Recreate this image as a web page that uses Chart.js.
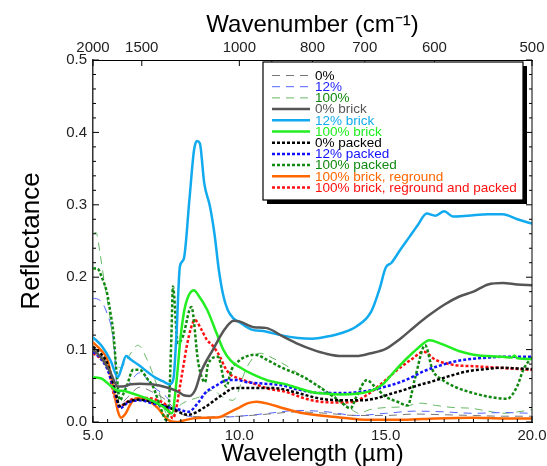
<!DOCTYPE html>
<html>
<head>
<meta charset="utf-8">
<script src="https://cdn.jsdelivr.net/npm/chart.js@4.4.1/dist/chart.umd.min.js"></script>
<style>
  html, body { margin: 0; padding: 0; background: #fff; }
  #wrap { width: 547px; height: 466px; }
</style>
</head>
<body>
<div id="wrap"><canvas id="reflChart"></canvas></div>
<script>
// spectra as [wavelength (um), reflectance]
const plain0 = [[5.0,0.105],[5.25,0.095],[5.5,0.078],[5.75,0.04],[5.92,0.025],[6.2,0.035],[6.6,0.048],[7.0,0.042],[7.5,0.03],[7.9,0.014],[8.3,0.008],[9.0,0.007],[10.0,0.008],[11.0,0.011],[12.0,0.014],[13.0,0.012],[14.0,0.009],[15.0,0.009],[16.0,0.011],[17.0,0.01],[18.0,0.009],[19.0,0.008],[20.0,0.008]];
const plain12 = [[5.0,0.171],[5.24,0.168],[5.48,0.15],[5.7,0.113],[5.85,0.04],[6.15,0.049],[6.6,0.068],[7.05,0.049],[7.5,0.035],[7.8,0.02],[8.1,0.01],[8.5,0.007],[9.0,0.006],[10.0,0.008],[11.0,0.012],[12.0,0.016],[13.0,0.014],[14.0,0.009],[15.0,0.012],[16.0,0.015],[17.0,0.014],[18.0,0.012],[19.0,0.013],[20.0,0.012]];
const plain100 = [[5.0,0.26],[5.1,0.262],[5.24,0.233],[5.4,0.19],[5.58,0.145],[5.8,0.081],[5.95,0.075],[6.15,0.086],[6.54,0.106],[6.85,0.086],[7.2,0.049],[7.5,0.012],[7.7,0.008],[7.9,0.02],[8.07,0.026],[8.66,0.035],[9.1,0.044],[9.4,0.035],[9.78,0.03],[10.26,0.076],[10.7,0.095],[11.05,0.09],[11.6,0.078],[12.2,0.062],[12.8,0.048],[13.3,0.035],[13.7,0.022],[14.1,0.012],[14.45,0.017],[15.0,0.02],[15.6,0.021],[16.2,0.026],[16.7,0.023],[17.3,0.02],[17.9,0.019],[18.5,0.015],[19.0,0.012],[19.5,0.014],[20.0,0.017]];
const brick0 = [[5.0,0.1],[5.3,0.088],[5.6,0.068],[5.85,0.049],[6.0,0.049],[6.3,0.052],[6.6,0.053],[7.0,0.052],[7.5,0.048],[7.9,0.042],[8.1,0.037],[8.3,0.036],[8.5,0.045],[8.7,0.07],[9.1,0.1],[9.5,0.128],[9.8,0.14],[10.0,0.139],[10.5,0.131],[10.9,0.13],[11.5,0.118],[12.0,0.108],[12.5,0.1],[13.0,0.094],[13.5,0.091],[14.0,0.091],[14.5,0.095],[15.0,0.101],[15.5,0.115],[16.0,0.132],[16.5,0.148],[17.0,0.162],[17.5,0.173],[18.0,0.18],[18.5,0.19],[19.0,0.192],[19.5,0.19],[20.0,0.189]];
const brick12 = [[5.0,0.117],[5.3,0.105],[5.6,0.085],[5.85,0.062],[5.98,0.075],[6.13,0.091],[6.3,0.086],[6.55,0.079],[7.1,0.062],[7.4,0.056],[7.63,0.052],[7.75,0.06],[7.85,0.12],[7.97,0.215],[8.1,0.225],[8.3,0.31],[8.45,0.375],[8.55,0.388],[8.65,0.385],[8.8,0.33],[9.0,0.297],[9.15,0.26],[9.3,0.21],[9.45,0.175],[9.6,0.155],[9.8,0.143],[10.0,0.138],[10.4,0.128],[10.9,0.125],[11.4,0.12],[12.0,0.116],[12.5,0.115],[13.0,0.118],[13.5,0.123],[14.0,0.132],[14.5,0.152],[14.8,0.185],[15.0,0.213],[15.2,0.22],[15.5,0.238],[15.8,0.255],[16.1,0.272],[16.4,0.288],[16.7,0.285],[17.0,0.291],[17.3,0.284],[17.8,0.285],[18.5,0.287],[19.0,0.287],[19.5,0.28],[20.0,0.274]];
const brick100 = [[5.0,0.062],[5.3,0.06],[5.6,0.05],[5.85,0.043],[6.0,0.043],[6.3,0.04],[6.6,0.036],[7.0,0.03],[7.4,0.021],[7.7,0.012],[7.85,0.055],[8.0,0.12],[8.15,0.16],[8.45,0.182],[8.6,0.175],[8.9,0.155],[9.2,0.125],[9.45,0.1],[9.7,0.085],[10.0,0.076],[10.5,0.065],[11.0,0.057],[11.5,0.053],[12.0,0.047],[12.5,0.041],[13.0,0.039],[13.5,0.038],[14.0,0.039],[14.5,0.043],[14.9,0.052],[15.3,0.07],[15.7,0.087],[16.1,0.102],[16.5,0.113],[16.9,0.108],[17.5,0.098],[18.0,0.093],[18.5,0.091],[19.0,0.09],[19.3,0.089],[19.4,0.092],[19.5,0.088],[20.0,0.087]];
const packed0 = [[5.0,0.104],[5.25,0.095],[5.5,0.08],[5.75,0.045],[5.92,0.022],[6.2,0.028],[6.6,0.031],[7.0,0.028],[7.66,0.019],[8.25,0.01],[8.8,0.02],[9.4,0.037],[9.85,0.047],[10.2,0.047],[10.6,0.047],[11.0,0.047],[11.4,0.046],[12.0,0.04],[12.8,0.032],[13.5,0.03],[14.2,0.03],[14.7,0.033],[15.1,0.038],[15.6,0.044],[16.05,0.05],[16.5,0.055],[16.9,0.06],[17.4,0.066],[17.8,0.07],[18.4,0.073],[19.0,0.075],[19.5,0.074],[20.0,0.073]];
const packed12 = [[5.0,0.097],[5.25,0.088],[5.5,0.072],[5.75,0.04],[5.92,0.019],[6.2,0.027],[6.6,0.03],[7.0,0.026],[7.5,0.021],[7.97,0.017],[8.25,0.014],[8.6,0.027],[8.83,0.04],[9.2,0.05],[9.6,0.058],[9.9,0.058],[10.26,0.055],[10.8,0.053],[11.4,0.051],[12.0,0.045],[12.75,0.04],[13.5,0.04],[14.0,0.041],[14.5,0.044],[15.0,0.049],[15.5,0.055],[15.9,0.062],[16.3,0.07],[16.7,0.076],[17.3,0.083],[17.9,0.087],[18.5,0.089],[19.0,0.09],[19.5,0.09],[20.0,0.09]];
const packed100 = [[5.0,0.212],[5.15,0.212],[5.3,0.2],[5.48,0.178],[5.6,0.15],[5.7,0.122],[5.8,0.07],[5.92,0.03],[6.05,0.04],[6.15,0.049],[6.37,0.072],[6.6,0.072],[6.85,0.06],[7.05,0.049],[7.3,0.021],[7.5,0.003],[7.6,0.03],[7.68,0.12],[7.73,0.187],[7.9,0.109],[8.07,0.118],[8.36,0.159],[8.6,0.081],[8.83,0.055],[8.93,0.08],[9.27,0.09],[9.55,0.049],[9.73,0.072],[10.0,0.085],[10.2,0.09],[10.53,0.093],[10.94,0.086],[11.4,0.076],[12.2,0.062],[12.6,0.052],[13.0,0.041],[13.4,0.03],[13.8,0.019],[14.0,0.035],[14.36,0.058],[14.6,0.05],[15.0,0.035],[15.4,0.028],[15.75,0.023],[16.0,0.06],[16.35,0.106],[16.6,0.072],[16.95,0.058],[17.4,0.048],[17.9,0.041],[18.5,0.035],[19.15,0.032],[19.5,0.05],[19.7,0.072],[20.0,0.09]];
const reground = [[5.0,0.11],[5.25,0.1],[5.5,0.085],[5.7,0.045],[5.85,0.015],[5.96,0.006],[6.12,0.012],[6.3,0.026],[6.54,0.033],[6.88,0.03],[7.2,0.02],[7.4,0.01],[7.56,0.003],[7.85,0.0],[8.1,0.002],[8.42,0.005],[9.0,0.006],[9.34,0.007],[9.6,0.012],[10.0,0.02],[10.3,0.026],[10.6,0.028],[11.0,0.025],[11.5,0.019],[12.2,0.012],[13.3,0.007],[14.45,0.003],[15.6,0.003],[16.7,0.005],[18.0,0.006],[19.0,0.005],[20.0,0.005]];
const regroundPacked = [[5.0,0.095],[5.25,0.088],[5.5,0.075],[5.7,0.04],[5.9,0.021],[6.05,0.024],[6.25,0.03],[6.6,0.033],[6.85,0.033],[7.2,0.03],[7.5,0.023],[7.73,0.005],[7.85,0.02],[7.97,0.049],[8.1,0.08],[8.2,0.104],[8.35,0.13],[8.48,0.141],[8.7,0.128],[8.9,0.113],[9.1,0.105],[9.34,0.09],[9.5,0.076],[9.68,0.066],[10.0,0.06],[10.43,0.054],[11.0,0.046],[11.56,0.042],[12.2,0.033],[12.75,0.028],[13.4,0.027],[13.9,0.028],[14.45,0.04],[15.0,0.058],[15.4,0.072],[15.9,0.087],[16.3,0.097],[16.7,0.086],[17.3,0.079],[18.0,0.077],[18.45,0.076],[19.2,0.074],[20.0,0.072]];

// top axis, wavenumber in cm-1
const wavenumberTicks = [2000, 1500, 1000, 900, 800, 700, 600, 500];
const wavenumberLabels = [2000, 1500, 1000, 800, 700, 600, 500];

const DASH = [8, 6];
const DOT = [3, 2];

function series(label, points, color, textColor, width, dash, order) {
    return {
        label: label,
        data: points.map(p => ({ x: p[0], y: p[1] })),
        borderColor: color,
        backgroundColor: color,
        legendColor: textColor,
        borderWidth: width,
        borderDash: dash,
        pointRadius: 0,
        fill: false,
        cubicInterpolationMode: 'monotone',
        order: order
    };
}

const datasets = [
    series('0%', plain0, '#777777', '#000000', 1, DASH, 1),
    series('12%', plain12, '#5566ff', '#2222ff', 1, DASH, 1),
    series('100%', plain100, '#66b866', '#118811', 1, DASH, 1),
    series('0% brick', brick0, '#555555', '#555555', 2.5, [], 0),
    series('12% brick', brick12, '#11aaee', '#11aaee', 2.5, [], 0),
    series('100% brick', brick100, '#22ee22', '#22ee22', 2.5, [], 0),
    series('0% packed', packed0, '#000000', '#000000', 2.5, DOT, 0),
    series('12% packed', packed12, '#1111ff', '#1111ff', 2.5, DOT, 0),
    series('100% packed', packed100, '#118811', '#118811', 2.5, DOT, 0),
    series('100% brick, reground', reground, '#ff6600', '#ff6600', 2.5, [], 0),
    series('100% brick, reground and packed', regroundPacked, '#ff1111', '#ff1111', 2.5, DOT, 0)
];

// inward tick marks on all four sides + right frame line
const frameTicks = {
    id: 'frameTicks',
    afterDatasetsDraw(chart) {
        const ctx = chart.ctx;
        const a = chart.chartArea;
        const { x, x2, y } = chart.scales;
        ctx.save();
        ctx.strokeStyle = '#000';
        ctx.lineWidth = 1;
        ctx.beginPath();
        ctx.moveTo(a.right, a.top);
        ctx.lineTo(a.right, a.bottom);
        for (let i = 0; i <= 25; i++) {
            const py = y.getPixelForValue(i * 0.02);
            const len = i % 5 === 0 ? 6 : 3;
            ctx.moveTo(a.left, py); ctx.lineTo(a.left + len, py);
            ctx.moveTo(a.right, py); ctx.lineTo(a.right - len, py);
        }
        for (let i = 0; i <= 30; i++) {
            const px = x.getPixelForValue(5 + i * 0.5);
            const len = i % 10 === 0 ? 6 : 3;
            ctx.moveTo(px, a.bottom); ctx.lineTo(px, a.bottom - len);
        }
        wavenumberTicks.forEach(n => {
            const px = x2.getPixelForValue(10000 / n);
            ctx.moveTo(px, a.top); ctx.lineTo(px, a.top + 6);
        });
        ctx.stroke();
        ctx.restore();
    }
};

// boxed legend with drop shadow in the upper right
const boxLegend = {
    id: 'boxLegend',
    afterDraw(chart) {
        const ctx = chart.ctx;
        const a = chart.chartArea;
        const w = 260, h = 138;
        const x0 = a.right - w - 9, y0 = a.top + 2;
        ctx.save();
        ctx.fillStyle = '#000';
        ctx.fillRect(x0 + 4, y0 + 4, w, h);
        ctx.fillStyle = '#fff';
        ctx.fillRect(x0, y0, w, h);
        ctx.strokeStyle = '#000';
        ctx.lineWidth = 1.2;
        ctx.strokeRect(x0, y0, w, h);
        ctx.font = '13.5px "Liberation Sans", Arial, sans-serif';
        ctx.textBaseline = 'middle';
        chart.data.datasets.forEach((ds, i) => {
            const ry = y0 + 13.5 + i * 11.2;
            ctx.beginPath();
            ctx.setLineDash(ds.borderDash);
            ctx.strokeStyle = ds.borderColor;
            ctx.lineWidth = ds.borderWidth;
            ctx.moveTo(x0 + 9, ry);
            ctx.lineTo(x0 + 47, ry);
            ctx.stroke();
            ctx.setLineDash([]);
            ctx.fillStyle = ds.legendColor;
            ctx.fillText(ds.label, x0 + 52, ry + 0.5);
        });
        ctx.restore();
    }
};

// keep the plot box fixed: no extra room for overhanging edge labels
function noEdgePadding(scale) {
    scale.paddingLeft = 0;
    scale.paddingRight = 0;
}

const tickFont = { family: '"Liberation Sans", Arial, sans-serif', size: 15 };
const titleFont = { family: '"Liberation Sans", Arial, sans-serif', size: 24, lineHeight: 1 };

const ctx = document.getElementById('reflChart').getContext('2d');
const reflChart = new Chart(ctx, {
    type: 'line',
    data: { datasets: datasets },
    options: {
        responsive: true,
        maintainAspectRatio: false,
        animation: false,
        layout: { padding: { right: 15 } },
        plugins: {
            legend: { display: false },
            tooltip: { enabled: false }
        },
        scales: {
            x: {
                type: 'linear',
                position: 'bottom',
                min: 5,
                max: 20,
                afterFit(scale) { scale.height = 44; noEdgePadding(scale); },
                ticks: {
                    stepSize: 5,
                    padding: 5,
                    color: '#222',
                    font: tickFont,
                    maxRotation: 0,
                    callback: v => v.toFixed(1)
                },
                grid: { display: false, drawTicks: false },
                border: { display: true, color: '#000', width: 1 },
                title: {
                    display: true,
                    text: 'Wavelength (\u00b5m)',
                    color: '#000',
                    font: titleFont,
                    padding: { top: 0, bottom: 0 }
                }
            },
            x2: {
                type: 'linear',
                position: 'top',
                min: 5,
                max: 20,
                afterFit(scale) { scale.height = 60; noEdgePadding(scale); },
                afterBuildTicks(scale) {
                    scale.ticks = wavenumberTicks.map(n => ({ value: 10000 / n }));
                },
                ticks: {
                    autoSkip: false,
                    maxRotation: 0,
                    padding: 3,
                    color: '#222',
                    font: tickFont,
                    callback: v => {
                        const n = Math.round(10000 / v);
                        return wavenumberLabels.includes(n) ? String(n) : '';
                    }
                },
                grid: { display: false, drawTicks: false },
                border: { display: true, color: '#000', width: 1 },
                title: {
                    display: true,
                    text: 'Wavenumber (cm\u207b\u00b9)',
                    color: '#000',
                    font: titleFont,
                    padding: { top: 13, bottom: 0 }
                }
            },
            y: {
                type: 'linear',
                min: 0,
                max: 0.5,
                afterFit(scale) { scale.width = 93; },
                ticks: {
                    stepSize: 0.1,
                    padding: 6,
                    color: '#222',
                    font: tickFont,
                    callback: v => v.toFixed(1)
                },
                grid: { display: false, drawTicks: false },
                border: { display: true, color: '#333', width: 1.5 },
                title: {
                    display: true,
                    text: 'Reflectance',
                    color: '#000',
                    font: { family: '"Liberation Sans", Arial, sans-serif', size: 26, lineHeight: 1 },
                    padding: { top: 19, bottom: 0 }
                }
            }
        }
    },
    plugins: [frameTicks, boxLegend]
});
</script>
</body>
</html>
